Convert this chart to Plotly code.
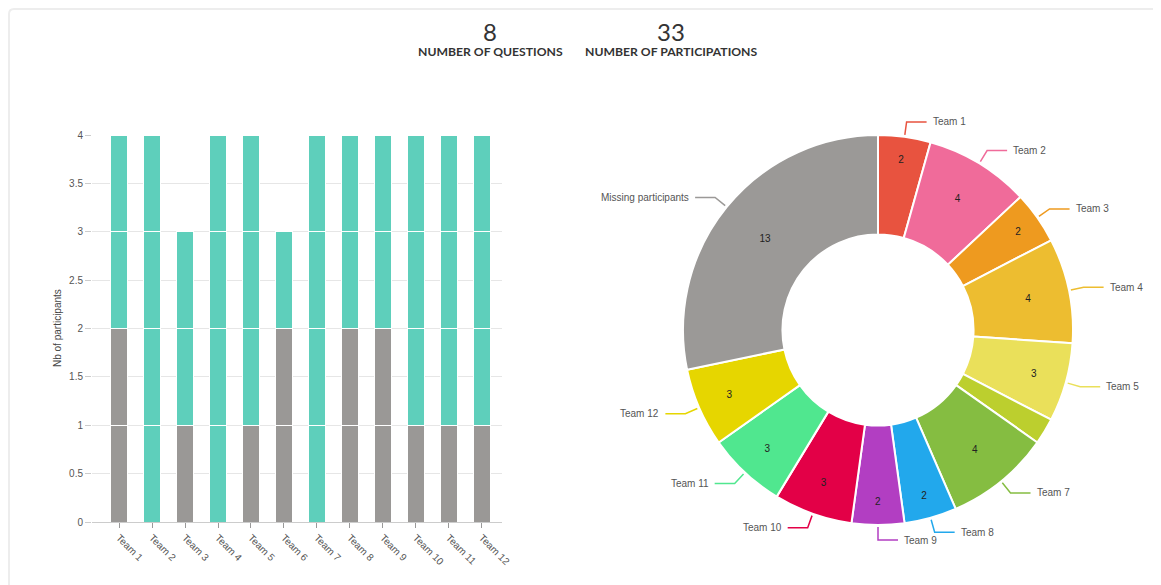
import math
import plotly.graph_objects as go

# ---------------- data ----------------
teams = [f"Team {i}" for i in range(1, 13)]
participated = [2, 4, 2, 4, 3, 1, 4, 2, 2, 3, 3, 3]
missing = [2, 0, 1, 0, 1, 2, 0, 2, 2, 1, 1, 1]
nb_questions = 8
missing_label = "Missing participants"
y_ticks = [0, 0.5, 1, 1.5, 2, 2.5, 3, 3.5, 4]
y_tick_text = ["0", "0.5", "1", "1.5", "2", "2.5", "3", "3.5", "4"]

team_colors = ["#E8533F", "#F06B9A", "#EE9A1F", "#EDBD30", "#EAE05A", "#BCCF2E",
               "#85BD41", "#22A8EC", "#B23EC2", "#E30047", "#50E78F", "#E6D600"]
missing_color = "#9B9997"
bar_part_color = "#5ECFBB"
bar_miss_color = "#9A9896"

W, H = 1161, 585
OFF = 8  # page offset of the plot div
def px(x): return (x - OFF) / W
def py(y): return 1 - (y - OFF) / H

fig = go.Figure()

# ---------------- stacked bar (one segment per participant) ----------------
totals = [p + m for p, m in zip(participated, missing)]
for k in range(1, max(totals) + 1):
    ys = [1 if t >= k else None for t in totals]
    cols = [bar_miss_color if k <= m else bar_part_color for m in missing]
    fig.add_trace(go.Bar(x=teams, y=ys, marker=dict(color=cols, line=dict(color="white", width=1)),
                         showlegend=False, hoverinfo="x+y", xaxis="x", yaxis="y"))

# ---------------- donut ----------------
pie_labels = teams + [missing_label]
pie_values = participated + [sum(missing)]
pie_colors = team_colors + [missing_color]
total = sum(pie_values)
show = [v / total >= 0.03 for v in pie_values]
pie_text = [str(v) if s else "" for v, s in zip(pie_values, show)]

cx, cy, R = 878, 330, 195
fig.add_trace(go.Pie(
    labels=pie_labels, values=pie_values, text=pie_text, textinfo="text",
    textposition="inside", insidetextorientation="horizontal",
    textfont=dict(family="Liberation Sans", size=10, color="#222"),
    hole=0.49, sort=False, direction="clockwise", rotation=0,
    marker=dict(colors=pie_colors, line=dict(color="white", width=2)),
    domain=dict(x=[px(cx - R), px(cx + R)], y=[py(cy + R), py(cy - R)]),
    showlegend=False,
))

shapes = []
annotations = []
cum = 0
for lab, v, col, s in zip(pie_labels, pie_values, pie_colors, show):
    mid = (cum + v / 2) / total
    cum += v
    if not s:
        continue
    th = 2 * math.pi * mid
    sx, sy = math.sin(th), -math.cos(th)
    ax, ay = cx + (R + 2) * sx, cy + (R + 2) * sy
    bx, by = cx + (R + 15) * sx, cy + (R + 15) * sy
    d = 1 if sx >= 0 else -1
    ccx = bx + d * 20
    shapes.append(dict(type="path", xref="paper", yref="paper",
                       path=f"M {px(ax)},{py(ay)} L {px(bx)},{py(by)} L {px(ccx)},{py(by)}",
                       line=dict(color=col, width=1.5)))
    annotations.append(dict(x=px(ccx + d * 4), y=py(by), xref="paper", yref="paper",
                            text=lab, showarrow=False, xanchor="left" if d > 0 else "right",
                            yanchor="middle", font=dict(family="Liberation Sans", size=10, color="#555")))

# ---------------- header ----------------
header = [(490, str(nb_questions), "NUMBER OF QUESTIONS"),
          (671, str(sum(participated)), "NUMBER OF PARTICIPATIONS")]
for x, num, lab in header:
    annotations.append(dict(x=px(x), y=py(32), xref="paper", yref="paper", text=num, showarrow=False,
                            xanchor="center", yanchor="middle",
                            font=dict(family="Lato", size=24, color="#333")))
    annotations.append(dict(x=px(x), y=py(52), xref="paper", yref="paper", text=f"<b>{lab}</b>",
                            showarrow=False, xanchor="center", yanchor="middle",
                            font=dict(family="Lato", size=12.2, color="#333")))

# y-axis title
annotations.append(dict(x=px(57), y=py(328), xref="paper", yref="paper", text="Nb of participants",
                        showarrow=False, textangle=-90, xanchor="center", yanchor="middle",
                        font=dict(family="Liberation Sans", size=10, color="#444")))

# card border
shapes.append(dict(type="path", xref="paper", yref="paper",
                   path=f"M {px(9)},{py(600)} L {px(9)},{py(14)} Q {px(9)},{py(9)} {px(14)},{py(9)} L {px(1175)},{py(9)}",
                   line=dict(color="#EDEDED", width=2), layer="below"))

fig.update_layout(
    width=W, height=H, margin=dict(l=0, r=0, t=0, b=0, autoexpand=False),
    paper_bgcolor="white", plot_bgcolor="white",
    barmode="stack", bargap=0.485,
    xaxis=dict(domain=[px(92), px(502)], range=[-0.82, 11.61], tickangle=45, ticks="outside", ticklen=5,
               tickcolor="#999", showline=True, linecolor="#CCCCCC", showgrid=False, automargin=False,
               tickfont=dict(family="Liberation Sans", size=10, color="#555"), anchor="y"),
    yaxis=dict(domain=[py(522), py(135)], range=[0, 4], tickvals=y_ticks, ticktext=y_tick_text,
               ticks="outside", ticklen=6, tickcolor="#CCCCCC", showgrid=True, gridcolor="#E6E6E6",
               zeroline=False, showline=False, automargin=False,
               tickfont=dict(family="Liberation Sans", size=10, color="#555"), anchor="x"),
    shapes=shapes, annotations=annotations,
)

fig.write_html("out.html")
